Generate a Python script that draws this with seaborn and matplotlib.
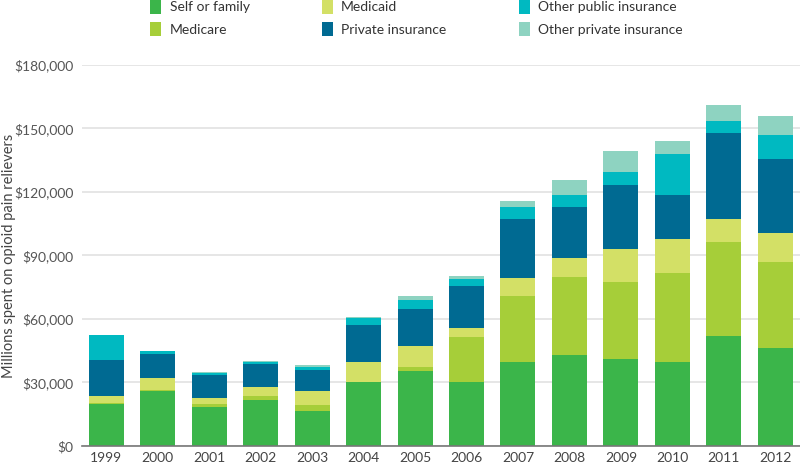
import numpy as np
import pandas as pd
import matplotlib
matplotlib.use("Agg")
import matplotlib.pyplot as plt
import seaborn as sns
from matplotlib.patches import Patch
from matplotlib.ticker import FuncFormatter

years = ["1999", "2000", "2001", "2002", "2003", "2004", "2005",
         "2006", "2007", "2008", "2009", "2010", "2011", "2012"]
self_family = [20000, 26200, 18600, 21800, 16700, 30000, 35200,
               30300, 39600, 42800, 41300, 39600, 52100, 46400]
medicare = [400, 300, 1300, 1600, 2500, 200, 1900,
            21100, 31100, 37200, 36200, 42300, 44300, 40500]
medicaid = [3000, 5500, 2700, 4400, 6800, 9400, 10100,
            4400, 8800, 8800, 15600, 16100, 11000, 13700]
private_ins = [17400, 11500, 11000, 10700, 9900, 17500, 17400,
               20000, 27900, 24300, 30000, 20700, 40600, 34900]
other_public = [11500, 1400, 1000, 1400, 1400, 3500, 4300,
                3000, 5700, 5500, 6200, 19400, 5700, 11200]
other_private = [300, 200, 200, 300, 1100, 300, 1900,
                 1700, 2400, 6900, 9900, 6100, 7400, 9300]

series_names = ["Self or family", "Medicare", "Medicaid", "Private insurance",
                "Other public insurance", "Other private insurance"]
series_vals = [self_family, medicare, medicaid, private_ins, other_public, other_private]
colors = ["#3bb54a", "#a6ce39", "#d3e066", "#006a92", "#00b9c1", "#8ed3c1"]

df = pd.DataFrame({"year": years})
cum = np.zeros(len(years))
for name, vals in zip(series_names, series_vals):
    cum = cum + np.array(vals)
    df[name] = cum

sns.set_theme(style="white")
plt.rcParams["font.family"] = ["Lato", "DejaVu Sans"]

fig = plt.figure(figsize=(8, 4.67), dpi=100)
ax = fig.add_axes([0.1025, 0.045, 0.8975, 0.816])

for name, col in reversed(list(zip(series_names, colors))):
    sns.barplot(data=df, x="year", y=name, color=col, width=0.68,
                saturation=1, ax=ax, zorder=3, edgecolor="none", linewidth=0)

ax.set_xlim(-0.47, 13.48)
ax.set_ylim(0, 180000)
ax.set_yticks(np.arange(0, 180001, 30000))
ax.yaxis.set_major_formatter(FuncFormatter(lambda v, p: "${:,.0f}".format(v)))
ax.grid(axis="y", color="#e2e2e2", linewidth=1.2, zorder=0)
ax.set_axisbelow(True)
for s in ["top", "right", "left"]:
    ax.spines[s].set_visible(False)
ax.spines["bottom"].set_color("#777777")
ax.spines["bottom"].set_linewidth(1.2)
ax.spines["bottom"].set_zorder(5)
ax.tick_params(axis="y", length=0, pad=6, labelsize=10, labelcolor="#555555")
ax.tick_params(axis="x", length=0, pad=4, labelsize=10, labelcolor="#444444")
ax.set_xlabel("")
ax.set_ylabel("Millions spent on opioid pain relievers", fontsize=10.5,
              color="#444444", labelpad=2)
ax.yaxis.set_label_coords(-0.092, 0.5)

handles = [Patch(facecolor=c, edgecolor="none") for c in colors]
fig.legend(handles, series_names, ncol=3, loc="upper left",
           bbox_to_anchor=(0.172, 1.028), frameon=False, fontsize=10,
           handlelength=0.8, handleheight=1.2, handletextpad=0.6,
           columnspacing=5.2, labelspacing=0.58, labelcolor="#333333")

fig.savefig("out.png", dpi=100)
